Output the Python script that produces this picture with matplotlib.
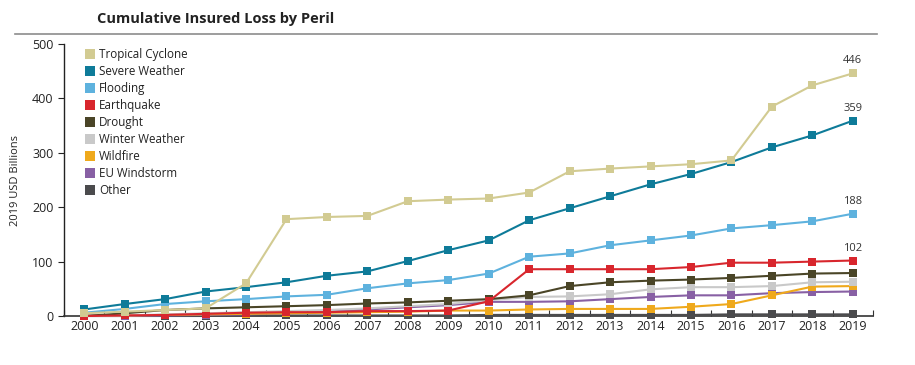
import matplotlib
matplotlib.use("Agg")
import matplotlib.pyplot as plt
from matplotlib.lines import Line2D

years = list(range(2000, 2020))

tropical_cyclone = [5, 8, 11, 14, 60, 178, 182, 184, 211, 214, 216, 227, 266, 271, 275, 279, 286, 385, 424, 446]
severe_weather   = [12, 22, 31, 45, 53, 62, 74, 82, 101, 121, 139, 176, 198, 220, 242, 261, 283, 310, 332, 359]
flooding         = [6, 13, 22, 27, 31, 36, 39, 51, 60, 66, 78, 109, 115, 130, 139, 148, 161, 167, 174, 188]
earthquake       = [0, 1, 2, 4, 6, 7, 7, 9, 9, 10, 27, 86, 86, 86, 86, 90, 98, 98, 100, 102]
drought          = [0, 5, 11, 14, 16, 18, 20, 23, 25, 28, 31, 38, 55, 62, 65, 67, 70, 74, 78, 79]
winter_weather   = [0, 1, 3, 5, 7, 9, 11, 14, 18, 22, 29, 35, 36, 40, 49, 53, 53, 55, 62, 63]
wildfire         = [0, 1, 2, 3, 4, 5, 6, 7, 8, 10, 10, 12, 13, 13, 13, 17, 22, 38, 54, 55]
eu_windstorm     = [0, 0, 1, 2, 3, 5, 8, 12, 16, 20, 26, 26, 27, 31, 35, 38, 38, 42, 44, 45]
other            = [0, 0, 0, 0, 1, 1, 1, 1, 1, 1, 2, 2, 2, 2, 2, 2, 3, 3, 3, 3]

series_names = ["Tropical Cyclone", "Severe Weather", "Flooding", "Earthquake", "Drought",
                "Winter Weather", "Wildfire", "EU Windstorm", "Other"]
series_values = [tropical_cyclone, severe_weather, flooding, earthquake, drought,
                 winter_weather, wildfire, eu_windstorm, other]
colors = ["#d2cb92", "#0e7b99", "#5eb2de", "#d8262d", "#4a4527",
          "#c9c9c9", "#efa91c", "#8860a4", "#4b4b4d"]
end_labels = {"Tropical Cyclone": "446", "Severe Weather": "359", "Flooding": "188", "Earthquake": "102"}

plt.rcParams['font.family'] = ['Open Sans', 'DejaVu Sans']

fig = plt.figure(figsize=(9.15, 3.65), dpi=100)
ax = fig.add_axes([64/915, 1-316/365, (873-64)/915, (316-44)/365])

for i in reversed(range(len(series_names))):
    ax.plot(years, series_values[i], color=colors[i], lw=1.5, marker='s', ms=5.2,
            markeredgewidth=0, zorder=10 + (len(series_names) - i), clip_on=False)
    name = series_names[i]
    if name in end_labels:
        ax.annotate(end_labels[name], (years[-1], series_values[i][-1]), xytext=(0, 5),
                    textcoords='offset points', ha='center', va='bottom', fontsize=8,
                    color='#333333')

ax.set_xlim(1999.5, 2019.5)
ax.set_ylim(0, 500)
ax.set_yticks([0, 100, 200, 300, 400, 500])
ax.set_xticks(years)
ax.set_xticks([y + 0.5 for y in range(1999, 2020)], minor=True)
ax.tick_params(axis='x', which='major', length=0, labelsize=9, pad=3, colors='#222222')
ax.tick_params(axis='x', which='minor', length=4, width=0.8, direction='in', colors='#333333')
ax.tick_params(axis='y', length=4, width=0.8, direction='out', labelsize=9, colors='#222222')
for s in ['top', 'right']:
    ax.spines[s].set_visible(False)
ax.spines['left'].set_color('#222222')
ax.spines['bottom'].set_color('#333333')
ax.spines['left'].set_linewidth(1.0)
ax.spines['bottom'].set_linewidth(1.2)
ax.set_ylabel("2019 USD Billions", fontsize=8, color='#222222', labelpad=8)

handles = [Line2D([], [], ls='none', marker='s', ms=6.5, markeredgewidth=0, color=c) for c in colors]
leg = ax.legend(handles, series_names, loc='upper left', bbox_to_anchor=(0.016, 1.018),
                frameon=False, fontsize=8.4, handlelength=0.6, handletextpad=0.5,
                labelspacing=0.34, borderaxespad=0.4)
for t in leg.get_texts():
    t.set_color('#222222')

fig.text(97/915, 1-19/365, "Cumulative Insured Loss by Peril", fontsize=10.5, fontweight='bold',
         color='#222222', ha='left', va='center')
fig.add_artist(Line2D([15/915, 877/915], [1-34/365, 1-34/365], color='#8c8c8c', lw=1.2))

fig.savefig("out.png", dpi=100)
